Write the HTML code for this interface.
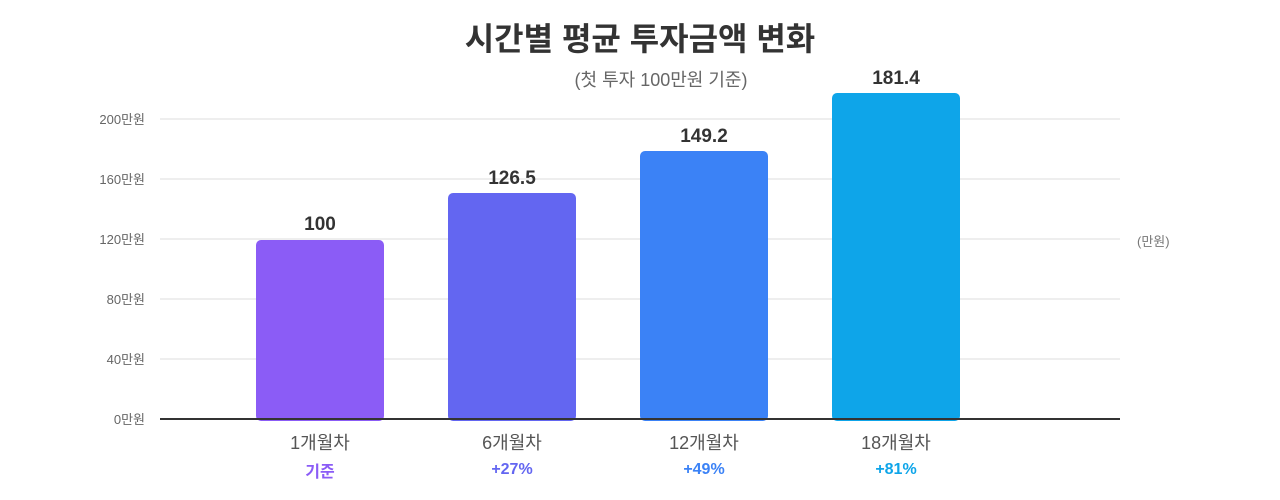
<!DOCTYPE html>
<html><head><meta charset="utf-8"><style>
body{margin:0;width:1280px;height:500px;background:#fff;position:relative;overflow:hidden;font-family:"Liberation Sans","Noto Sans CJK KR",sans-serif}
.a{position:absolute;white-space:nowrap}
.t{left:0;width:1280px;text-align:center;top:14px;font-size:32px;font-weight:bold;color:#333}
.st{left:500px;width:322px;text-align:center;top:66px;font-size:18px;color:#666}
.g{position:absolute;left:160px;width:960px;height:2px;background:#eee}
.y{position:absolute;right:1135px;font-size:13px;color:#666;text-align:right}
.b{position:absolute;width:128px;border-radius:5px}
.v{position:absolute;width:128px;text-align:center;font-size:19px;font-weight:bold;color:#333}
.x{position:absolute;width:192px;text-align:center;font-size:18px;color:#555}
.p{position:absolute;width:192px;text-align:center;font-size:16px;font-weight:bold}
</style></head><body>
<div class="a t">시간별 평균 투자금액 변화</div>
<div class="a st">(첫 투자 100만원 기준)</div>
<div class="g" style="top:118px"></div>
<div class="g" style="top:178px"></div>
<div class="g" style="top:238px"></div>
<div class="g" style="top:298px"></div>
<div class="g" style="top:358px"></div>
<div class="y" style="top:109px">200만원</div>
<div class="y" style="top:169px">160만원</div>
<div class="y" style="top:229px">120만원</div>
<div class="y" style="top:289px">80만원</div>
<div class="y" style="top:349px">40만원</div>
<div class="y" style="top:409px">0만원</div>
<div class="a" style="left:1137px;top:231px;font-size:13px;color:#777">(만원)</div>
<div class="b" style="left:256px;top:240px;height:181px;background:#8b5cf6"></div>
<div class="b" style="left:448px;top:193px;height:228px;background:#6366f1"></div>
<div class="b" style="left:640px;top:151px;height:270px;background:#3b82f6"></div>
<div class="b" style="left:832px;top:93px;height:328px;background:#0ea5e9"></div>
<div style="position:absolute;left:160px;top:418px;width:960px;height:2px;background:#333"></div>
<div class="v" style="left:256px;top:214px">100</div>
<div class="v" style="left:448px;top:168px">126.5</div>
<div class="v" style="left:640px;top:126px">149.2</div>
<div class="v" style="left:832px;top:68px">181.4</div>
<div class="x" style="left:224px;top:429px">1개월차</div>
<div class="x" style="left:416px;top:429px">6개월차</div>
<div class="x" style="left:608px;top:429px">12개월차</div>
<div class="x" style="left:800px;top:429px">18개월차</div>
<div class="p" style="left:224px;top:458px;color:#8b5cf6">기준</div>
<div class="p" style="left:416px;top:461px;color:#6366f1">+27%</div>
<div class="p" style="left:608px;top:461px;color:#3b82f6">+49%</div>
<div class="p" style="left:800px;top:461px;color:#0ea5e9">+81%</div>
</body></html>
